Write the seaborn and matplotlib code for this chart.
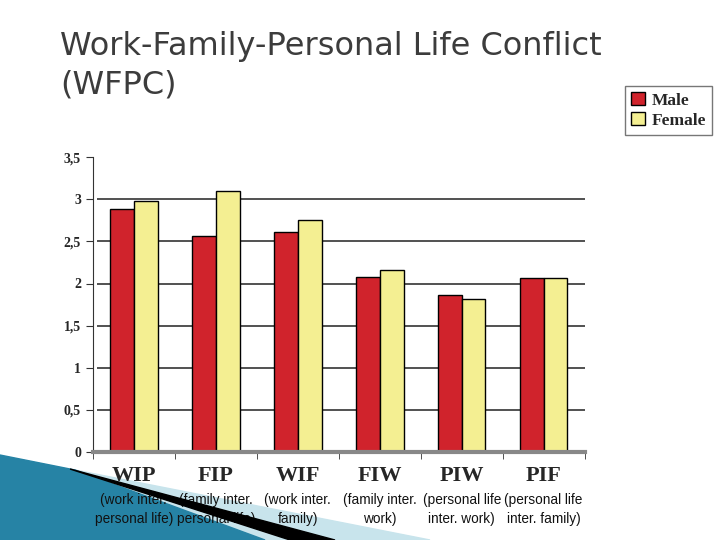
import matplotlib
matplotlib.use("Agg")
import matplotlib.pyplot as plt
from matplotlib.patches import Polygon, Patch
import pandas as pd
import seaborn as sns

# --- data ---
categories = ["WIP", "FIP", "WIF", "FIW", "PIW", "PIF"]
subtitles = ["(work inter.\npersonal life)", "(family inter.\npersonal life)",
             "(work inter.\nfamily)", "(family inter.\nwork)",
             "(personal life\ninter. work)", "(personal life\ninter. family)"]
male = [2.88, 2.56, 2.61, 2.08, 1.86, 2.06]
female = [2.98, 3.10, 2.75, 2.16, 1.82, 2.07]
yticks = [0, 0.5, 1, 1.5, 2, 2.5, 3, 3.5]
ytick_labels = ["0", "0,5", "1", "1,5", "2", "2,5", "3", "3,5"]

df = pd.DataFrame({
    "cat": categories * 2,
    "value": male + female,
    "sex": ["Male"] * len(male) + ["Female"] * len(female),
})

sns.set_style("white")
colors = {"Male": "#d0232c", "Female": "#f4ef92"}

fig = plt.figure(figsize=(7.2, 5.4), dpi=100)


def px(pts):
    # pixel coords (y down) -> figure fraction
    return [(x / 720, 1 - y / 540) for x, y in pts]


# slide decoration, bottom left
fig.patches.append(Polygon(px([(75, 470), (430, 540), (250, 540)]), closed=True,
                           transform=fig.transFigure, color="#c8e4ec", zorder=-1))
fig.patches.append(Polygon(px([(0, 455), (75, 470), (265, 540), (0, 540)]), closed=True,
                           transform=fig.transFigure, color="#2683a5", zorder=-1))
fig.patches.append(Polygon(px([(70, 469), (335, 540), (290, 540)]), closed=True,
                           transform=fig.transFigure, color="black", zorder=5))

ax = fig.add_axes([0.129, 0.163, 0.683, 0.546])
sns.barplot(data=df, x="cat", y="value", hue="sex", palette=colors,
            saturation=1, width=0.58, edgecolor="black", linewidth=1,
            legend=False, ax=ax)

ax.set_ylim(0, 3.5)
ax.set_xlim(-0.5, len(categories) - 0.5)
ax.set_yticks(yticks)
ax.set_yticklabels(ytick_labels, fontfamily="Liberation Serif",
                   fontweight="bold", fontsize=10)
ax.hlines(yticks[1:-1], -0.45, len(categories) - 0.5, color="#333333",
          linewidth=1.2, zorder=0)
for s in ["top", "right"]:
    ax.spines[s].set_visible(False)
ax.spines["left"].set_color("#333333")
ax.spines["bottom"].set_color("#888888")
ax.spines["bottom"].set_linewidth(3)
ax.tick_params(axis="y", length=5, left=True, color="#333333")

ax.set_xticks(range(len(categories)))
ax.set_xticklabels(categories, fontfamily="Liberation Serif",
                   fontweight="bold", fontsize=16)
ax.tick_params(axis="x", length=0, pad=10)
ax.set_xticks([i - 0.5 for i in range(len(categories) + 1)], minor=True)
ax.tick_params(axis="x", which="minor", length=5, bottom=True, color="#333333")
ax.set_xlabel("")
ax.set_ylabel("")

for i, sub in enumerate(subtitles):
    ax.text(i, -0.14, sub, transform=ax.get_xaxis_transform(),
            ha="center", va="top", fontsize=9.8, linespacing=1.45,
            fontfamily="Liberation Sans", color="#111111")

fig.text(0.083, 0.942, "Work-Family-Personal Life Conflict\n(WFPC)",
         ha="left", va="top", fontsize=23, color="#3c3c3c",
         fontfamily="DejaVu Sans", linespacing=1.3)

handles = [Patch(facecolor=colors["Male"], edgecolor="black", label="Male"),
           Patch(facecolor=colors["Female"], edgecolor="black", label="Female")]
fig.legend(handles=handles, loc="upper right", bbox_to_anchor=(0.989, 0.841),
           borderaxespad=0, frameon=True, fancybox=False, edgecolor="#555555",
           handlelength=0.8, handleheight=0.8, handletextpad=0.4,
           labelspacing=0.2, borderpad=0.35,
           prop={"family": "Liberation Serif", "weight": "bold", "size": 12.5})

fig.savefig("out.png", dpi=100)
